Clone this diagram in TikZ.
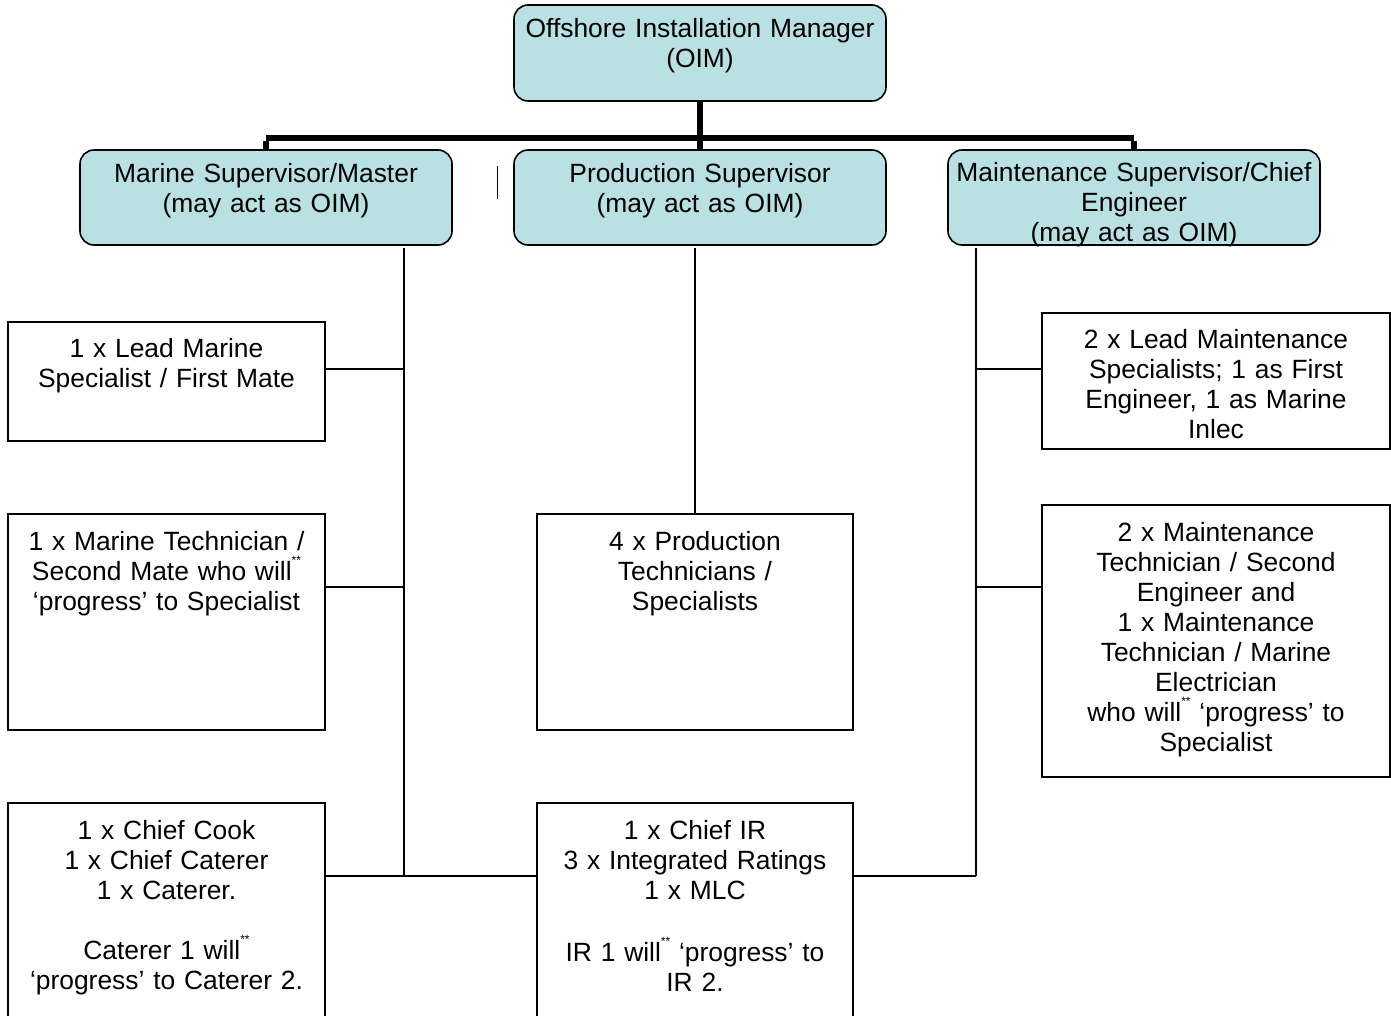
\documentclass[tikz,border=0pt]{standalone}
\usepackage{fontspec}
\setmainfont{Liberation Sans}
\definecolor{supblue}{RGB}{185,224,227}
\newcommand{\twostar}{\raisebox{0.6em}{\fontsize{12}{12}\selectfont**}}
\begin{document}
\begin{tikzpicture}[x=1pt,y=-1pt,
  supbox/.style={draw,line width=1.6pt,rounded corners=14pt,fill=supblue,
    minimum width=372pt,inner sep=0pt},
  staffbox/.style={draw,line width=1.6pt,inner sep=0pt},
  boxtext/.style={anchor=base,align=center,text width=380pt,inner sep=0pt,
    font=\fontsize{26.4}{30}\selectfont},
  link/.style={line width=1.8pt},
  bus/.style={line width=5.5pt}]
 \useasboundingbox (0,0) rectangle (1391,1015);
 % supervisors
 \node[supbox,minimum height=96pt] (oim) at (700,53) {};
 \node[supbox,minimum height=95pt] (marsup) at (266,197.5) {};
 \node[supbox,minimum height=95pt] (prodsup) at (700,197.5) {};
 \node[supbox,minimum height=95pt] (maintsup) at (1134,197.5) {};
 % crew
 \node[staffbox,minimum width=317pt,minimum height=119pt] (leadmar) at (166.5,381.5) {};
 \node[staffbox,minimum width=317pt,minimum height=216pt] (martech) at (166.5,622) {};
 \node[staffbox,minimum width=317pt,minimum height=240pt] (catering) at (166.5,923) {};
 \node[staffbox,minimum width=316pt,minimum height=216pt] (prodtech) at (695,622) {};
 \node[staffbox,minimum width=316pt,minimum height=240pt] (ratings) at (695,923) {};
 \node[staffbox,minimum width=348pt,minimum height=136pt] (leadmaint) at (1216,381) {};
 \node[staffbox,minimum width=348pt,minimum height=272pt] (mainttech) at (1216,641) {};
 % texts
 \node[boxtext] (oimtxt) at ([yshift=-33pt]oim.north)
   {Offshore Installation Manager\\(OIM)};
 \node[boxtext] (marsuptxt) at ([yshift=-33pt]marsup.north)
   {Marine Supervisor/Master\\(may act as OIM)};
 \node[boxtext] (prodsuptxt) at ([yshift=-33pt]prodsup.north)
   {Production Supervisor\\(may act as OIM)};
 \node[boxtext] (maintsuptxt) at ([yshift=-32pt]maintsup.north)
   {Maintenance Supervisor/Chief\\Engineer\\(may act as OIM)};
 \node[boxtext] (leadmartxt) at ([yshift=-36pt]leadmar.north)
   {1 x Lead Marine\\Specialist / First Mate};
 \node[boxtext] (martechtxt) at ([yshift=-37pt]martech.north)
   {1 x Marine Technician /\\Second Mate who will\twostar\\‘progress’ to Specialist};
 \node[boxtext] (cateringtxt) at ([yshift=-37pt]catering.north)
   {1 x Chief Cook\\1 x Chief Caterer\\1 x Caterer.\\[30pt]Caterer 1 will\twostar\\‘progress’ to Caterer 2.};
 \node[boxtext] (prodtechtxt) at ([yshift=-37pt]prodtech.north)
   {4 x Production\\Technicians /\\Specialists};
 \node[boxtext] (ratingstxt) at ([yshift=-37pt]ratings.north)
   {1 x Chief IR\\3 x Integrated Ratings\\1 x MLC\\[32pt]IR 1 will\twostar{} ‘progress’ to\\IR 2.};
 \node[boxtext] (leadmainttxt) at ([yshift=-36pt]leadmaint.north)
   {2 x Lead Maintenance\\Specialists; 1 as First\\Engineer, 1 as Marine\\Inlec};
 \node[boxtext] (mainttechtxt) at ([yshift=-37pt]mainttech.north)
   {2 x Maintenance\\Technician / Second\\Engineer and\\1 x Maintenance\\Technician / Marine\\Electrician\\who will\twostar{} ‘progress’ to\\Specialist};
 % top bus
 \coordinate (busmid) at (700,138);
 \coordinate (busleft) at (266,138);
 \coordinate (busright) at (1134,138);
 \draw[bus] (oim.south) -- (prodsup.north);
 \draw[bus] (busleft) -- (busright);
 \draw[bus] ([yshift=-2.75pt]busleft) -- (marsup.north);
 \draw[bus] ([yshift=-2.75pt]busright) -- (maintsup.north);
 % stray mark
 \draw[line width=1.8pt] (497.5,166) -- (497.5,199);
 % spines
 \coordinate (ltop) at (404,248);
 \coordinate (lbot) at (404,876);
 \coordinate (rtop) at (976,248);
 \coordinate (rbot) at (976,876);
 \coordinate (mtop) at (695,248);
 \draw[link] (ltop) -- (lbot);
 \draw[link] (rtop) -- (rbot);
 \draw[link] (mtop) -- (prodtech.north);
 % branches
 \coordinate (lj1) at (404,369);
 \coordinate (lj2) at (404,587);
 \coordinate (rj1) at (976,369);
 \coordinate (rj2) at (976,587);
 \draw[link] (lj1) -- (lj1 -| leadmar.east);
 \draw[link] (lj2) -- (lj2 -| martech.east);
 \draw[link] (rj1) -- (rj1 -| leadmaint.west);
 \draw[link] (rj2) -- (rj2 -| mainttech.west);
 \draw[link] (lbot -| catering.east) -- (lbot -| ratings.west);
 \draw[link] (rbot -| ratings.east) -- (rbot);
\end{tikzpicture}
\end{document}
